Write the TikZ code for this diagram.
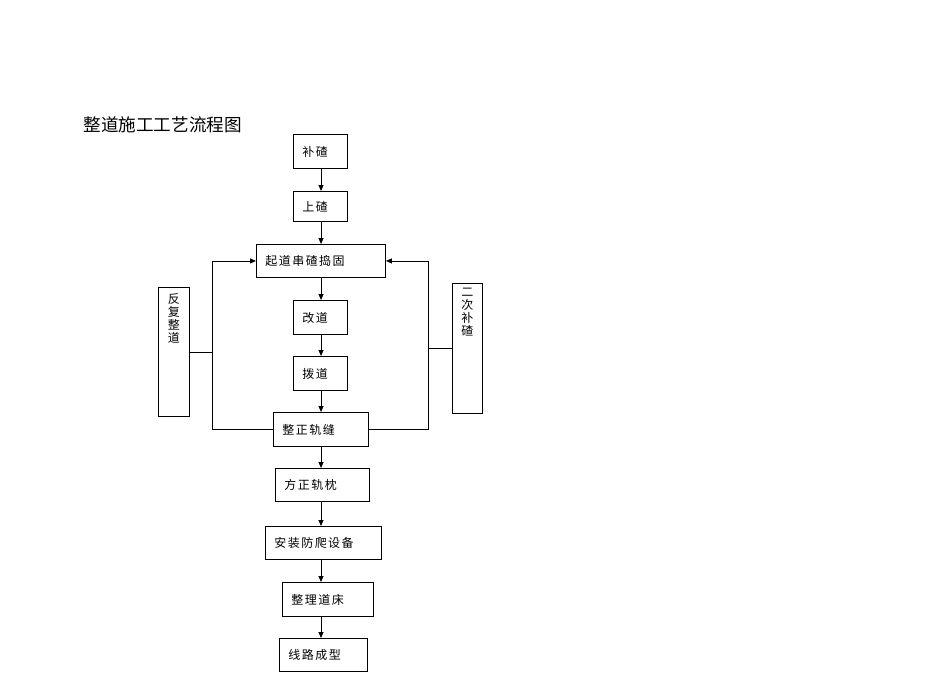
\documentclass[tikz,border=0pt]{standalone}
\usepackage{fontspec}
\newfontfamily\cjk{Noto Sans CJK SC}
\newfontfamily\cjkbox[LetterSpace=12]{Noto Sans CJK SC}
\usetikzlibrary{arrows.meta}
\begin{document}
\begin{tikzpicture}[x=1pt,y=-1pt,
  box/.style={draw, line width=0.9pt, inner xsep=9pt, inner ysep=0pt, minimum height=33pt, align=left, anchor=north west, font=\cjkbox\fontsize{12}{14}\selectfont},
  vbox/.style={draw, line width=0.9pt, inner sep=0pt, anchor=north west, font=\cjk\fontsize{12}{13}\selectfont},
  arr/.style={-{Triangle[length=6pt,width=5pt]}, line width=0.9pt},
  ln/.style={line width=0.9pt}]
\useasboundingbox (0,0) rectangle (950,672);
\node[anchor=west, font=\cjk\fontsize{17.6}{20}\selectfont] (title) at (80,125) {整道施工工艺流程图};

\node[box, text width=36pt, minimum height=34pt] (bz) at (293,134) {补碴};
\node[box, text width=36pt, minimum height=30pt] (sz) at (293,191) {上碴};
\node[box, text width=111pt] (qd) at (256,244) {起道串碴捣固};
\node[box, text width=36pt, minimum height=34pt] (gd) at (293,300) {改道};
\node[box, text width=36pt, minimum height=34pt] (bd) at (293,356) {拨道};
\node[box, text width=77pt, minimum height=34pt] (zz) at (273,412) {整正轨缝};
\node[box, text width=76pt] (fz) at (275,468) {方正轨枕};
\node[box, text width=98pt] (az) at (265,526) {安装防爬设备};
\node[box, text width=73pt, minimum height=34pt] (zl) at (282,582) {整理道床};
\node[box, text width=70pt] (xl) at (279,638) {线路成型};

\node[vbox] (ff) at (158,287) {\begin{minipage}[c][129pt][t]{31pt}\centering\vspace*{6pt}反\\复\\整\\道\end{minipage}};
\node[vbox] (ec) at (452,283) {\begin{minipage}[c][130pt][t]{30pt}\centering\vspace*{5pt}二\\次\\补\\碴\end{minipage}};

\coordinate (S) at (321,0);
\coordinate (L) at (212,0);
\coordinate (R) at (428,0);

\draw[arr] (bz.south -| S) -- (sz.north -| S);
\draw[arr] (sz.south -| S) -- (qd.north -| S);
\draw[arr] (qd.south -| S) -- (gd.north -| S);
\draw[arr] (gd.south -| S) -- (bd.north -| S);
\draw[arr] (bd.south -| S) -- (zz.north -| S);
\draw[arr] (zz.south -| S) -- (fz.north -| S);
\draw[arr] (fz.south -| S) -- (az.north -| S);
\draw[arr] (az.south -| S) -- (zl.north -| S);
\draw[arr] (zl.south -| S) -- (xl.north -| S);

\draw[arr] (zz.west) -- (zz.west -| L) -- (qd.west -| L) -- (qd.west);
\draw[arr] (zz.east) -- (zz.east -| R) -- (qd.east -| R) -- (qd.east);
\draw[ln] (ff.east) -- (ff.east -| L);
\draw[ln] (ec.west) -- (ec.west -| R);
\end{tikzpicture}
\end{document}
